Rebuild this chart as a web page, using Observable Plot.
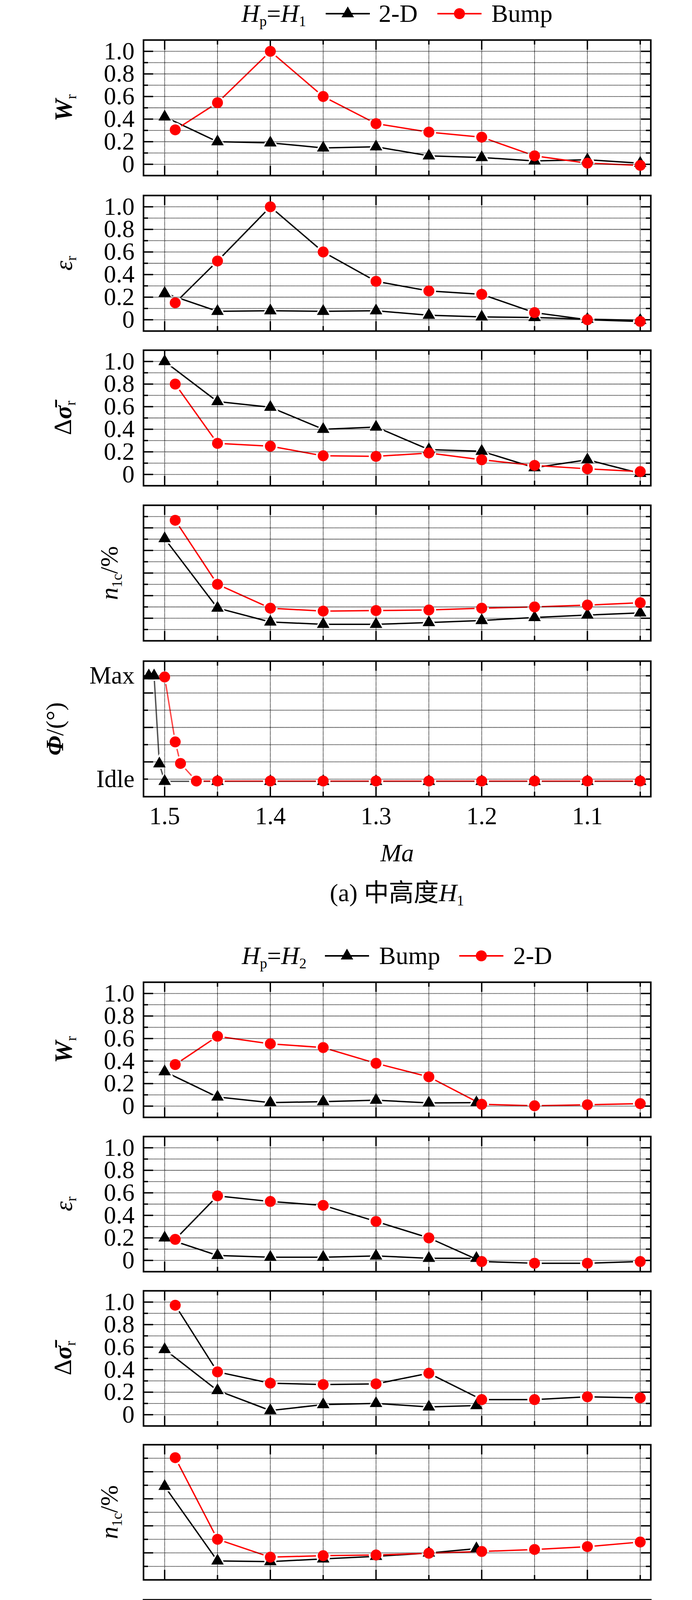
<!DOCTYPE html>
<html>
<head>
<meta charset="utf-8">
<script src="https://cdn.jsdelivr.net/npm/d3@7"></script>
<script src="https://cdn.jsdelivr.net/npm/@observablehq/plot@0.6"></script>
<style>
  html, body { margin: 0; padding: 0; background: #fff; }
  #root { position: relative; width: 1772px; height: 4745px; overflow: hidden;
          font-family: "Liberation Serif", "Times New Roman", "Noto Sans CJK SC", serif; color: #000; }
  sub { font-size: 0.58em; line-height: 0; position: relative; top: 0.3em; vertical-align: baseline; }
  .ylab { position: absolute; transform: translate(-50%, -50%) rotate(-90deg); white-space: nowrap;
          font-size: 64px; line-height: 64px; }
  .legend { position: absolute; height: 80px; display: flex;
            justify-content: center; align-items: center; font-size: 64px; line-height: 64px; }
  .legend span { white-space: nowrap; }
  .caption { position: absolute; text-align: center; font-size: 64px; line-height: 64px;
             white-space: nowrap; }
  .cjk { font-family: "Noto Sans CJK SC", sans-serif; }
</style>
</head>
<body>
<div id="root"></div>
<script>
// ---------------- shared axis values ----------------
const xGrid   = [1.5, 1.45, 1.4, 1.35, 1.3, 1.25, 1.2, 1.15, 1.1, 1.05];
const xMajor  = [1.5, 1.4, 1.3, 1.2, 1.1];
const xMinor  = [1.45, 1.35, 1.25, 1.15, 1.05];
const xLabels = [1.5, 1.4, 1.3, 1.2, 1.1];

const unitGrid   = [0, 0.1, 0.2, 0.3, 0.4, 0.5, 0.6, 0.7, 0.8, 0.9, 1.0];
const unitMajor  = [0, 0.2, 0.4, 0.6, 0.8, 1.0];
const unitMinor  = [0.1, 0.3, 0.5, 0.7, 0.9];
const unitLabels = ["0", "0.2", "0.4", "0.6", "0.8", "1.0"];

const nGridA  = [1, 2, 3, 4, 5, 6, 7, 8, 9, 10, 11];
const nMajorA = [2, 4, 6, 8, 10];
const nMinorA = [1, 3, 5, 7, 9, 11];
const nGridB  = [1, 2, 3, 4, 5, 6, 7, 8, 9];
const nMajorB = [2, 4, 6, 8];
const nMinorB = [1, 3, 5, 7, 9];

const phiGrid   = [0, 1, 2, 3, 4, 5, 6];
const phiMajor  = [1, 3, 5];
const phiMinor  = [0, 2, 4, 6];
const phiTickAt = [0, 6];
const phiLabels = ["Idle", "Max"];

// ---------------- figure (a): Hp = H1 ----------------
const maA2D   = [1.5, 1.45, 1.4, 1.35, 1.3, 1.25, 1.2, 1.15, 1.1, 1.05];
const maABump = [1.49, 1.45, 1.4, 1.35, 1.3, 1.25, 1.2, 1.15, 1.1, 1.05];
const aWr2D   = [0.42, 0.20, 0.19, 0.145, 0.155, 0.075, 0.06, 0.03, 0.04, 0.01];
const aWrBump = [0.305, 0.545, 1.0, 0.60, 0.36, 0.285, 0.24, 0.075, 0.01, -0.01];
const aEr2D   = [0.235, 0.075, 0.08, 0.075, 0.08, 0.04, 0.025, 0.02, 0.005, -0.005];
const aErBump = [0.15, 0.52, 1.0, 0.60, 0.34, 0.255, 0.225, 0.063, 0.0, -0.015];
const aDs2D   = [1.0, 0.645, 0.595, 0.40, 0.42, 0.22, 0.205, 0.06, 0.13, 0.01];
const aDsBump = [0.80, 0.275, 0.25, 0.165, 0.16, 0.19, 0.13, 0.08, 0.05, 0.025];
const aN2D    = [9.05, 2.9, 1.67, 1.46, 1.46, 1.62, 1.8, 2.07, 2.28, 2.47];
const aNBump  = [10.67, 5.0, 2.89, 2.63, 2.68, 2.73, 2.89, 3.0, 3.16, 3.37];
const maAPhi2D   = [1.515, 1.51, 1.505, 1.5, 1.45, 1.4, 1.35, 1.3, 1.25, 1.2, 1.15, 1.1, 1.05];
const aPhi2D     = [6, 6, 0.89, -0.13, -0.13, -0.13, -0.13, -0.13, -0.13, -0.13, -0.13, -0.13, -0.13];
const maAPhiBump = [1.5, 1.49, 1.485, 1.47, 1.45, 1.4, 1.35, 1.3, 1.25, 1.2, 1.15, 1.1, 1.05];
const aPhiBump   = [5.93, 2.16, 0.91, -0.11, -0.11, -0.11, -0.11, -0.11, -0.11, -0.11, -0.11, -0.11, -0.11];

// ---------------- figure (b): Hp = H2 ----------------
const maBBump = [1.5, 1.45, 1.4, 1.35, 1.3, 1.25, 1.205];
const maB2D   = [1.49, 1.45, 1.4, 1.35, 1.3, 1.25, 1.2, 1.15, 1.1, 1.05];
const bWrBump = [0.306, 0.081, 0.031, 0.04, 0.053, 0.028, 0.031];
const bWr2D   = [0.369, 0.62, 0.553, 0.52, 0.38, 0.26, 0.016, 0.003, 0.012, 0.022];
const bErBump = [0.20, 0.044, 0.028, 0.028, 0.04, 0.019, 0.019];
const bEr2D   = [0.187, 0.573, 0.523, 0.489, 0.346, 0.20, -0.01, -0.025, -0.025, -0.01];
const bDsBump = [0.579, 0.215, 0.037, 0.09, 0.10, 0.069, 0.081];
const bDs2D   = [0.972, 0.38, 0.28, 0.268, 0.274, 0.368, 0.134, 0.134, 0.159, 0.15];
const bNBump  = [6.92, 1.40, 1.35, 1.55, 1.74, 1.99, 2.31];
const bN2D    = [9.04, 3.0, 1.68, 1.79, 1.84, 1.97, 2.10, 2.25, 2.46, 2.80];
const maBPhiBump = [1.515, 1.51, 1.505, 1.5, 1.45, 1.4, 1.35, 1.3, 1.25, 1.2, 1.15, 1.1, 1.05];
const bPhiBump   = [6, 6, 1.04, 0.0, -0.05, -0.05, -0.05, -0.05, -0.05, -0.05, -0.05, -0.05, -0.05];
const maBPhi2D   = [1.5, 1.49, 1.485, 1.47, 1.45, 1.4, 1.35, 1.3, 1.25, 1.2, 1.15, 1.1, 1.05];
const bPhi2D     = [5.92, 2.21, 0.94, -0.04, -0.06, -0.06, -0.06, -0.06, -0.06, -0.06, -0.06, -0.06, -0.06];

// ---------------- layout ----------------
const W = 1772, ML = 367, MR = 106, FW = W - ML - MR;
const root = document.getElementById("root");
const SERIF = '"Liberation Serif", "Times New Roman", serif';

function place(el, top, left = 0) {
  el.style.position = "absolute";
  el.style.left = left + "px";
  el.style.top = top + "px";
  root.appendChild(el);
}

function makePanel(cfg) {
  const {top, h, yDomain, yGrid, yMajor, yMinor, yText, series, last} = cfg;
  const PAD = 40, MB = last ? 230 : PAD;
  const sets = series.map(s => s.x.map((x, i) => ({x, y: s.y[i]})));
  const marks = [];
  series.forEach((s, k) => {
    marks.push(Plot.line(sets[k], {x: "x", y: "y", stroke: s.lineColor, strokeWidth: 3.5,
                                   strokeOpacity: s.lineOpacity ?? 1}));
    marks.push(Plot.dot(sets[k], {x: "x", y: "y", symbol: s.symbol,
                                  r: s.symbol === "circle" ? 18.5 : 16.5, fill: "white"}));
  });
  const grid = {stroke: "black", strokeWidth: 1.8, strokeDasharray: "1.7,1.1"};
  marks.push(Plot.ruleX(xGrid, {x: d => d, ...grid}));
  marks.push(Plot.ruleY(yGrid, {y: d => d, ...grid}));
  const tk = {stroke: "black", strokeWidth: 3.5};
  marks.push(Plot.tickX(xMajor, {x: d => d, insetBottom: h - 25, ...tk}));
  marks.push(Plot.tickX(xMajor, {x: d => d, insetTop: h - 25, ...tk}));
  marks.push(Plot.tickX(xMinor, {x: d => d, insetBottom: h - 12, ...tk}));
  marks.push(Plot.tickX(xMinor, {x: d => d, insetTop: h - 12, ...tk}));
  marks.push(Plot.tickY(yMajor, {y: d => d, insetRight: FW - 25, ...tk}));
  marks.push(Plot.tickY(yMajor, {y: d => d, insetLeft: FW - 25, ...tk}));
  marks.push(Plot.tickY(yMinor, {y: d => d, insetRight: FW - 12, ...tk}));
  marks.push(Plot.tickY(yMinor, {y: d => d, insetLeft: FW - 12, ...tk}));
  series.forEach((s, k) => {
    marks.push(Plot.dot(sets[k], {x: "x", y: "y", symbol: s.symbol,
                                  r: s.symbol === "circle" ? 14 : 11.9, fill: s.color}));
  });
  marks.push(Plot.frame({stroke: "black", strokeWidth: 4}));
  if (yText) {
    marks.push(Plot.text(yText.v, {y: d => d, text: (d, i) => yText.t[i], frameAnchor: "left",
                                   textAnchor: "end", lineAnchor: "middle", dx: -23, fontSize: 63}));
  }
  if (last) {
    marks.push(Plot.text(xLabels, {x: d => d, text: d => d.toFixed(1), frameAnchor: "bottom",
                                   lineAnchor: "bottom", dy: 70, fontSize: 63}));
    marks.push(Plot.text(["Ma"], {text: d => d, frameAnchor: "bottom", lineAnchor: "bottom",
                                  dy: 165, fontSize: 64, fontStyle: "italic"}));
  }
  const svg = Plot.plot({
    width: W, height: h + PAD + MB,
    marginLeft: ML, marginRight: MR, marginTop: PAD, marginBottom: MB,
    x: {domain: [1.52, 1.04], axis: null},
    y: {domain: yDomain, axis: null},
    style: {fontFamily: SERIF, fontSize: "63px", background: "transparent", overflow: "visible", color: "black"},
    marks
  });
  place(svg, top - PAD);
}

function yTitle(html, cx, cy) {
  const d = document.createElement("div");
  d.className = "ylab";
  d.innerHTML = html;
  d.style.left = cx + "px";
  d.style.top = cy + "px";
  root.appendChild(d);
}

function swatch(symbol, color) {
  const s = d3.create("svg").attr("width", 113).attr("height", 40).style("display", "block");
  s.append("line").attr("x1", 0).attr("x2", 113).attr("y1", 20).attr("y2", 20)
    .attr("stroke", color).attr("stroke-width", 4);
  const size = symbol === "circle" ? Math.PI * 14 * 14 : Math.PI * 11.9 * 11.9;
  s.append("path").attr("transform", "translate(56.5,20)")
    .attr("d", d3.symbol(symbol === "circle" ? d3.symbolCircle : d3.symbolTriangle, size)())
    .attr("fill", color);
  return s.node();
}

function legend(top, hLabel, items) {
  const d = document.createElement("div");
  d.className = "legend";
  d.style.top = top + "px";
  d.style.left = ML + "px";
  d.style.width = FW + "px";
  const t = document.createElement("span");
  t.innerHTML = `<i>H</i><sub>p</sub>=<i>H</i><sub>${hLabel}</sub>`;
  d.appendChild(t);
  items.forEach(it => {
    const sw = swatch(it.symbol, it.color);
    sw.style.marginLeft = it.gapL + "px";
    sw.style.marginRight = it.gapR + "px";
    d.appendChild(sw);
    const l = document.createElement("span");
    l.textContent = it.label;
    d.appendChild(l);
  });
  root.appendChild(d);
}

function caption(baseline, html) {
  const d = document.createElement("div");
  d.className = "caption";
  d.innerHTML = html;
  d.style.top = (baseline - 56) + "px";
  d.style.left = ML + "px";
  d.style.width = FW + "px";
  root.appendChild(d);
}

function figure(f) {
  const [t1, t2, t3, t4, t5] = f.tops;
  const h = f.h;
  const unitText = {v: unitMajor, t: unitLabels};
  makePanel({top: t1, h, yDomain: [-0.1, 1.1], yGrid: unitGrid, yMajor: unitMajor, yMinor: unitMinor,
             yText: unitText, series: f.p1});
  makePanel({top: t2, h, yDomain: [-0.1, 1.1], yGrid: unitGrid, yMajor: unitMajor, yMinor: unitMinor,
             yText: unitText, series: f.p2});
  makePanel({top: t3, h, yDomain: [-0.1, 1.1], yGrid: unitGrid, yMajor: unitMajor, yMinor: unitMinor,
             yText: unitText, series: f.p3});
  makePanel({top: t4, h, yDomain: f.nDomain, yGrid: f.nGrid, yMajor: f.nMajor, yMinor: f.nMinor,
             yText: null, series: f.p4});
  makePanel({top: t5, h, yDomain: f.phiDomain, yGrid: phiGrid, yMajor: phiMajor, yMinor: phiMinor,
             yText: {v: phiTickAt, t: phiLabels}, series: f.p5, last: true});
  yTitle(`<b><i>W</i></b><sub>r</sub>`, 163, t1 + h / 2);
  yTitle(`<i>ε</i><sub>r</sub>`, 163, t2 + h / 2);
  yTitle(`Δ<b><i>σ̄</i></b><sub>r</sub>`, 161, t3 + h / 2);
  yTitle(`<i>n</i><sub>1c</sub>/%`, 280, t4 + h / 2);
  yTitle(`<b><i>Φ</i></b>/(°)`, 141, t5 + h / 2);
}

const K = (x, y, lineColor, lineOpacity) => ({x, y, symbol: "triangle", color: "black", lineColor, lineOpacity});
const R = (x, y, lineColor, lineOpacity) => ({x, y, symbol: "circle", color: "#ff0000", lineColor, lineOpacity});

// figure (a)
legend(-5, "1", [
  {symbol: "triangle", color: "black", label: "2-D", gapL: 50, gapR: 23},
  {symbol: "circle", color: "#ff0000", label: "Bump", gapL: 51, gapR: 25}
]);
figure({
  tops: [102, 500, 896, 1293, 1692], h: 347,
  nDomain: [0, 12], nGrid: nGridA, nMajor: nMajorA, nMinor: nMinorA,
  phiDomain: [-1.02, 6.85],
  p1: [K(maA2D, aWr2D, "black"), R(maABump, aWrBump, "#ff0000")],
  p2: [K(maA2D, aEr2D, "black"), R(maABump, aErBump, "black")],
  p3: [K(maA2D, aDs2D, "black"), R(maABump, aDsBump, "#ff0000")],
  p4: [K(maA2D, aN2D, "black"), R(maABump, aNBump, "#ff0000")],
  p5: [K(maAPhi2D, aPhi2D, "black", 0.68), R(maAPhiBump, aPhiBump, "#ff0000", 0.72)]
});
caption(2303, `(a) <span class="cjk">中高度</span><i>H</i><sub>1</sub>`);

// figure (b)
legend(2407, "2", [
  {symbol: "triangle", color: "black", label: "Bump", gapL: 47, gapR: 26},
  {symbol: "circle", color: "#ff0000", label: "2-D", gapL: 49, gapR: 25}
]);
figure({
  tops: [2514, 2909, 3304, 3698, 4095], h: 346,
  nDomain: [0, 10], nGrid: nGridB, nMajor: nMajorB, nMinor: nMinorB,
  phiDomain: [-0.91, 6.82],
  p1: [K(maBBump, bWrBump, "black"), R(maB2D, bWr2D, "#ff0000")],
  p2: [K(maBBump, bErBump, "black"), R(maB2D, bEr2D, "black")],
  p3: [K(maBBump, bDsBump, "black"), R(maB2D, bDs2D, "black")],
  p4: [K(maBBump, bNBump, "black"), R(maB2D, bN2D, "#ff0000")],
  p5: [K(maBPhiBump, bPhiBump, "black"), R(maBPhi2D, bPhi2D, "#ff0000")]
});
caption(4711, `(b) <span class="cjk">高高度</span><i>H</i><sub>2</sub>`);
</script>
</body>
</html>
